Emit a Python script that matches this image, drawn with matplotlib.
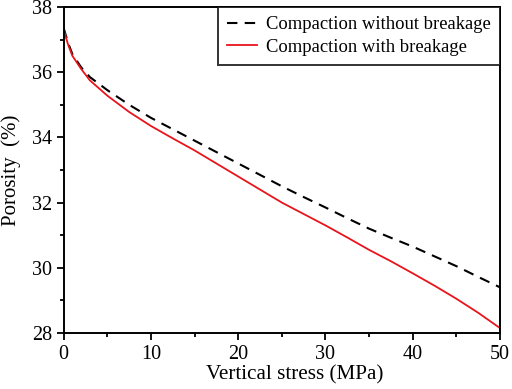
import matplotlib
matplotlib.use("Agg")
import matplotlib.pyplot as plt
from matplotlib.ticker import MultipleLocator

plt.rcParams['font.family'] = ['Liberation Serif', 'DejaVu Serif']
plt.rcParams['mathtext.fontset'] = 'stix'

stress = [0, 0.5, 1, 2, 3, 5, 7.5, 10, 12.5, 15, 17.5, 20, 22.5, 25, 27.5, 30,
          32.5, 35, 37.5, 40, 42.5, 45, 47.5, 50]
without_breakage = [37.35, 36.9, 36.55, 36.15, 35.85, 35.45, 35.0, 34.6, 34.25, 33.9,
                    33.55, 33.2, 32.85, 32.5, 32.17, 31.85, 31.52, 31.2, 30.92, 30.65,
                    30.35, 30.05, 29.72, 29.4]
with_breakage = [37.3, 36.85, 36.5, 36.1, 35.75, 35.28, 34.78, 34.35, 33.97, 33.6,
                 33.2, 32.8, 32.4, 32.0, 31.65, 31.3, 30.93, 30.55, 30.2, 29.83,
                 29.45, 29.05, 28.62, 28.15]

fig = plt.figure(figsize=(5.12, 3.89), dpi=100)
ax = fig.add_axes([0.1244, 0.144, 0.8522, 0.838])

ax.plot(stress, without_breakage, color='black', linestyle=(0, (5, 3.5)), linewidth=1.5,
        label='Compaction without breakage')
ax.plot(stress, with_breakage, color='#e8141c', linestyle='-', linewidth=1.3,
        label='Compaction with breakage')

ax.set_xlim(0, 50)
ax.set_ylim(28, 38)
ax.xaxis.set_major_locator(MultipleLocator(10))
ax.xaxis.set_minor_locator(MultipleLocator(5))
ax.yaxis.set_major_locator(MultipleLocator(2))
ax.yaxis.set_minor_locator(MultipleLocator(1))
ax.tick_params(which='both', direction='out', top=False, right=False, labelsize=14.5, width=1.3)
ax.tick_params(which='major', length=5)
ax.tick_params(which='minor', length=3)
for s in ax.spines.values():
    s.set_linewidth(1.4)

ax.set_xlabel('Vertical stress (MPa)', fontsize=15.2)
ax.xaxis.set_label_coords(0.53, -0.098)
ax.set_ylabel('Porosity  (%)', fontsize=15)
ax.yaxis.set_label_coords(-0.098, 0.5)

leg = ax.legend(loc='upper right', borderaxespad=0, fontsize=13.4, frameon=True,
                fancybox=False, edgecolor='black', handlelength=1.6, borderpad=0.5,
                labelspacing=0.3, handletextpad=0.5)
leg.get_frame().set_linewidth(1.4)

fig.savefig('out.png', dpi=100)
